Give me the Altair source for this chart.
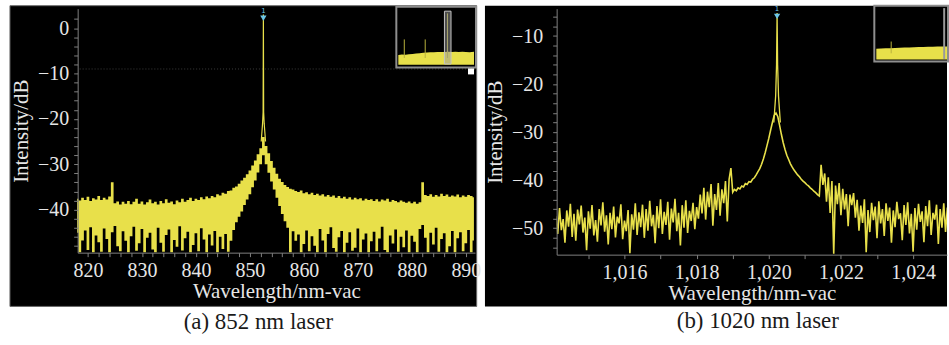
import altair as alt
import pandas as pd

FONT = "Liberation Serif, Times New Roman, Times, DejaVu Serif, serif"
YEL = "#e8e04a"
CYAN = "#6cc6e8"
TXT = "#e6e6e6"
AXC = "#808080"

# ---------------- panel (a): 852 nm laser ----------------
wl_a = [round(818.0 + 0.5 * i, 1) for i in range(148)]
upper_a = [
    -37.6, -38.0, -37.4, -37.9, -37.2, -38.1, -37.5, -37.8, -37.0, -37.9,
    -37.4, -37.8, -37.1, -34.0, -38.6, -38.2, -38.9, -38.3, -38.7, -38.1,
    -38.8, -38.3, -37.6, -38.7, -38.2, -38.9, -38.4, -37.8, -38.6, -38.3,
    -38.9, -38.1, -38.6, -37.7, -38.5, -38.2, -38.8, -38.0, -38.4, -37.6,
    -38.3, -37.9, -37.4, -38.1, -37.6, -37.9, -37.3, -37.7, -37.1, -37.5,
    -37.0, -37.3, -36.6, -36.9, -36.3, -36.5, -35.9, -35.8, -35.2, -34.9,
    -34.3, -33.6, -33.0, -32.2, -31.4, -30.3, -29.2, -27.8, -26.5, -24.0,
    -26.0, -27.6, -29.3, -30.8, -32.1, -33.2, -33.9, -34.6, -35.0, -35.4,
    -35.6, -35.9, -36.1, -35.8, -36.4, -36.2, -36.6, -36.3, -36.8, -36.5,
    -36.9, -36.6, -37.1, -36.8, -37.2, -36.9, -37.4, -37.0, -37.5, -37.2,
    -37.6, -37.3, -37.8, -37.4, -37.7, -37.5, -38.0, -37.6, -37.9, -37.7,
    -38.1, -37.7, -38.2, -37.8, -38.0, -37.6, -38.3, -37.9, -38.1, -38.4,
    -38.0, -38.3, -38.5, -38.2, -38.6, -38.3, -38.7, -38.4, -34.0, -36.8,
    -37.0, -36.6, -37.2, -36.8, -37.1, -36.5, -37.0, -36.7, -37.2, -36.9,
    -37.1, -36.7, -37.3, -36.9, -37.2, -36.8, -37.0, -37.3,
]
lower_a = [
    -45.1, -49.4, -46.8, -44.6, -48.9, -43.9, -49.4, -45.7, -47.2, -49.3,
    -44.2, -46.5, -49.4, -45.0, -43.6, -48.1, -49.2, -44.8, -46.9, -49.4,
    -45.9, -43.8, -49.1, -47.4, -44.3, -49.4, -46.2, -45.1, -48.8, -49.4,
    -44.0, -47.3, -49.3, -45.6, -44.4, -49.4, -46.7, -48.2, -43.7, -49.0,
    -46.3, -44.9, -49.4, -47.8, -45.2, -49.2, -44.1, -46.6, -49.4, -45.5,
    -47.9, -44.7, -49.4, -46.0, -48.7, -45.4, -49.3, -46.9, -44.5, -42.8,
    -41.6, -40.4, -39.0, -37.8, -36.6, -35.1, -33.6, -31.8, -30.0, -28.0,
    -30.0, -31.9, -33.8, -35.6, -37.4, -39.2, -41.0, -42.6, -44.0, -49.4,
    -44.8, -46.9, -45.5, -49.4, -47.6, -44.6, -49.2, -45.9, -48.0, -49.4,
    -44.3, -46.8, -49.4, -45.4, -43.9, -48.5, -49.3, -46.1, -44.7, -49.4,
    -47.3, -45.0, -49.1, -48.4, -44.2, -49.4, -46.6, -45.3, -49.4, -47.0,
    -44.9, -49.2, -46.4, -43.8, -48.9, -49.4, -45.7, -47.5, -44.4, -49.3,
    -46.0, -48.3, -44.6, -49.4, -45.8, -47.1, -49.4, -44.3, -43.4, -46.2,
    -49.4, -45.1, -47.7, -44.0, -49.3, -46.5, -45.2, -49.4, -48.1, -44.7,
    -49.4, -46.3, -45.0, -49.2, -47.4, -44.5, -49.4, -46.8,
]
peak_a_wl = [852.1, 852.35, 852.45, 852.5, 852.55, 852.65, 852.9]
peak_a_db = [-25.0, -21.0, -18.5, 3.0, -18.5, -21.0, -25.0]
marker_a = [{"wl": 852.5, "db": 2.2}]
threshold_a = [{"db": -9.0}]
x_ticks_a = list(range(820, 892, 2))
y_ticks_a = list(range(-48, 3, 2))

# overview inset (a)
ova_x = [300, 340, 380, 420, 460, 500, 540, 580, 620, 660, 700, 740, 780, 820, 860, 900, 940, 980, 1020, 1060, 1100, 1150]
ova_y = [-56.0, -55.4, -55.6, -54.9, -54.6, -54.0, -53.6, -53.1, -52.7, -52.4, -52.1, -51.9, -51.8, -51.9, -51.6, -51.9, -51.7, -52.0, -51.6, -51.9, -52.1, -51.7]
ova_spike_x = [367, 602, 852]
ova_spike_y = [-35.0, -35.0, 0.0]
ova_sel = [{"ow": 818, "ow2": 892, "od": -68, "od2": 3}]

# ---------------- panel (b): 1020 nm laser ----------------
wl_b = [round(1014.10 + 0.05 * i, 2) for i in range(218)]
trace_b = [
    -47.5, -51.2, -45.8, -50.4, -48.1, -53.0, -46.3, -49.7, -44.9, -51.8,
    -47.0, -52.6, -46.1, -49.2, -45.3, -50.9, -47.8, -54.6, -46.5, -50.1,
    -45.2, -51.5, -48.3, -52.8, -46.0, -49.4, -44.6, -50.7, -47.3, -53.4,
    -46.8, -50.2, -45.5, -51.9, -47.6, -49.0, -45.0, -52.3, -48.4, -50.6,
    -46.2, -55.2, -47.1, -50.3, -44.8, -51.4, -46.7, -49.8, -45.1, -52.0,
    -46.0, -50.5, -44.3, -49.6, -47.2, -53.1, -45.4, -50.0, -44.0, -51.2,
    -46.6, -49.3, -44.5, -52.4, -45.9, -48.8, -43.9, -50.6, -46.8, -53.6,
    -45.2, -49.9, -44.2, -51.0, -46.4, -48.5, -44.7, -50.2, -45.6, -48.0,
    -43.0, -46.9, -41.6, -48.2, -42.4, -45.6, -40.8, -49.5, -42.9, -46.2,
    -40.6, -47.4, -41.9, -44.8, -40.2, -48.6, -39.8, -37.5, -42.5, -41.9,
    -42.2, -41.6, -41.8, -41.2, -41.4, -40.7, -40.9, -40.3, -40.4, -39.8,
    -39.5, -38.9, -38.2, -37.6, -36.7, -35.6, -34.3, -32.8, -31.3, -29.6,
    -28.0, -26.5, -26.0, -26.8, -28.6, -30.5, -32.2, -33.6, -34.8, -35.7,
    -36.6, -37.3, -37.9, -38.4, -38.9, -39.3, -39.8, -40.2, -40.5, -40.9,
    -41.2, -41.6, -41.9, -42.3, -42.6, -43.0, -43.3, -36.8, -41.0, -38.6,
    -44.5, -39.4, -46.8, -40.2, -55.3, -41.1, -45.0, -40.6, -47.3, -41.8,
    -46.1, -42.9, -49.6, -43.0, -45.2, -42.7, -47.8, -44.1, -50.5, -45.3,
    -48.9, -44.0, -55.0, -46.2, -50.8, -44.7, -48.3, -45.5, -52.1, -44.4,
    -49.0, -46.0, -51.6, -44.8, -48.5, -45.7, -53.0, -46.3, -49.8, -44.5,
    -48.1, -46.9, -52.5, -45.2, -49.3, -44.6, -51.1, -47.0, -54.9, -45.8,
    -50.3, -44.9, -48.7, -46.5, -52.9, -45.4, -49.6, -44.2, -51.4, -46.8,
    -48.2, -45.1, -53.3, -46.0, -49.9, -44.8, -50.8, -45.7,
]
peak_b_wl = [1020.14, 1020.19, 1020.215, 1020.23, 1020.245, 1020.27, 1020.32]
peak_b_db = [-28.0, -22.5, -16.0, -5.2, -16.0, -22.5, -28.0]
marker_b = [{"wl": 1020.23, "db": -5.9}]
x_ticks_b = list(range(1015, 1025))
y_ticks_b = list(range(-54, -5, 2))

# overview inset (b)
ovb_x = [300, 350, 400, 450, 500, 550, 600, 650, 700, 750, 800, 850, 900, 950, 1000, 1050]
ovb_y = [-53.5, -53.2, -53.0, -52.8, -52.5, -52.3, -52.0, -51.8, -51.6, -51.3, -51.1, -50.9, -50.8, -50.6, -50.7, -50.5]
ovb_spike_x = [458]
ovb_spike_y = [-43.6]
ovb_sel_x = [1020]

captions = ["(a) 852 nm laser", "(b) 1020 nm laser"]
one = alt.Data(values=[{}])


def x_axis(values, every, fmt):
    return alt.Axis(values=values, format=fmt,
                    labelExpr=f"datum.value % {every} === 0 ? datum.label : ''",
                    title="Wavelength/nm-vac", labelFlush=False, labelOverlap=False,
                    tickSize=4, labelPadding=4, titlePadding=0, zindex=2)


def y_axis(values, pad, tpad):
    return alt.Axis(values=values, format="d",
                    labelExpr="datum.value % 10 === 0 ? datum.label : ''",
                    title="Intensity/dB", labelFlush=False, labelOverlap=False,
                    tickSize=4, labelPadding=pad, titlePadding=tpad, zindex=2)


# ---------- panel A ----------
xA = alt.X("wl:Q", scale=alt.Scale(domain=[818.1, 891.7], nice=False, zero=False),
           axis=x_axis(x_ticks_a, 10, "d"))
yA = alt.Y("db:Q", scale=alt.Scale(domain=[-49.5, 4.3], nice=False, zero=False),
           axis=y_axis(y_ticks_a, 5, 6))
yA_low = alt.Y("lower:Q", scale=alt.Scale(domain=[-49.5, 4.3], nice=False, zero=False),
               axis=y_axis(y_ticks_a, 5, 6))

bgA = alt.Chart(one).mark_rect(fill="black", stroke="#6a6a6a", strokeWidth=1).encode(
    x=alt.value(-68), x2=alt.value(400.7), y=alt.value(-3), y2=alt.value(299))
thrA = alt.Chart(alt.Data(values=threshold_a)).mark_rule(
    color="#3c3c3c", strokeDash=[1, 2], strokeWidth=1).encode(y=yA)
areaA = alt.Chart(pd.DataFrame({"wl": wl_a, "lower": lower_a, "upper": upper_a})).mark_area(
    color=YEL, opacity=1, interpolate="step").encode(x=xA, y=yA_low, y2="upper:Q")
peakA = alt.Chart(pd.DataFrame({"wl": peak_a_wl, "db": peak_a_db})).mark_line(
    color=YEL, strokeWidth=1.2).encode(x=xA, y=yA)
mkA = alt.Chart(alt.Data(values=marker_a)).mark_point(
    shape="triangle-down", filled=True, color=CYAN, size=40, opacity=1).encode(x=xA, y=yA)
lbA = alt.Chart(alt.Data(values=marker_a)).mark_text(
    text="1", fontSize=7, color=CYAN, dy=-7, font="DejaVu Sans").encode(x=xA, y=yA)
mainA = alt.layer(bgA, thrA, areaA, peakA, mkA, lbA)

ixA = alt.X("ow:Q", scale=alt.Scale(domain=[300, 1150], range=[322, 398], nice=False, zero=False), axis=None)
iyA = alt.Y("od:Q", scale=alt.Scale(domain=[-70, 5], range=[57, 1], nice=False, zero=False), axis=None)
boxA = alt.Chart(one).mark_rect(fill="black", stroke="#8e8e8e", strokeWidth=2).encode(
    x=alt.value(320), x2=alt.value(400), y=alt.value(-2), y2=alt.value(59))
ovA = alt.Chart(pd.DataFrame({"ow": ova_x, "od": ova_y})).mark_area(color=YEL).encode(
    x=ixA, y=iyA, y2=alt.datum(-69))
spA = alt.Chart(pd.DataFrame({"ow": ova_spike_x, "od": ova_spike_y})).mark_rule(
    color="#b8b13c", strokeWidth=1).encode(x=ixA, y=iyA, y2=alt.datum(-60))
selA = alt.Chart(alt.Data(values=ova_sel)).mark_rect(
    fill="#9a9a9a", fillOpacity=0.5, stroke="#c4c4c4", strokeWidth=1).encode(
    x=ixA, x2="ow2:Q", y=iyA, y2="od2:Q")
sqA = alt.Chart(one).mark_rect(fill="white").encode(
    x=alt.value(392), x2=alt.value(398), y=alt.value(60), y2=alt.value(66))
insetA = alt.layer(boxA, ovA, spA, selA, sqA)

panelA = alt.layer(mainA, insetA).resolve_scale(x="independent", y="independent").properties(
    width=399, height=245,
    title=alt.TitleParams(captions[0], orient="bottom", anchor="middle", frame="group",
                          offset=4, dx=-18, font=FONT, fontSize=23, fontWeight="normal",
                          color="#1a1a1a"))

# ---------- panel B ----------
xB = alt.X("wl:Q", scale=alt.Scale(domain=[1014.12, 1024.94], nice=False, zero=False),
           axis=x_axis(x_ticks_b, 2, ",d"))
yB = alt.Y("db:Q", scale=alt.Scale(domain=[-55.5, -4.3], nice=False, zero=False),
           axis=y_axis(y_ticks_b, 10, 6))

bgB = alt.Chart(one).mark_rect(fill="black").encode(
    x=alt.value(-72), x2=alt.value(392), y=alt.value(-3), y2=alt.value(299))
trB = alt.Chart(pd.DataFrame({"wl": wl_b, "db": trace_b})).mark_line(
    color=YEL, strokeWidth=1.6, clip=True).encode(x=xB, y=yB)
peakB = alt.Chart(pd.DataFrame({"wl": peak_b_wl, "db": peak_b_db})).mark_line(
    color=YEL, strokeWidth=1.3).encode(x=xB, y=yB)
mkB = alt.Chart(alt.Data(values=marker_b)).mark_point(
    shape="triangle-down", filled=True, color=CYAN, size=40, opacity=1).encode(x=xB, y=yB)
lbB = alt.Chart(alt.Data(values=marker_b)).mark_text(
    text="1", fontSize=7, color=CYAN, dy=-7, font="DejaVu Sans").encode(x=xB, y=yB)
mainB = alt.layer(bgB, trB, peakB, mkB, lbB)

ixB = alt.X("ow:Q", scale=alt.Scale(domain=[300, 1050], range=[321, 392], nice=False, zero=False), axis=None)
iyB = alt.Y("od:Q", scale=alt.Scale(domain=[-70, 5], range=[52, -2], nice=False, zero=False), axis=None)
boxB = alt.Chart(one).mark_rect(fill="black", stroke="#8e8e8e", strokeWidth=2).encode(
    x=alt.value(319), x2=alt.value(393), y=alt.value(-3), y2=alt.value(53))
ovB = alt.Chart(pd.DataFrame({"ow": ovb_x, "od": ovb_y})).mark_area(color=YEL).encode(
    x=ixB, y=iyB, y2=alt.datum(-68.6))
spB = alt.Chart(pd.DataFrame({"ow": ovb_spike_x, "od": ovb_spike_y})).mark_rule(
    color="#b8b13c", strokeWidth=1).encode(x=ixB, y=iyB, y2=alt.datum(-60))
selB = alt.Chart(pd.DataFrame({"ow": ovb_sel_x})).mark_rule(
    color="#9a9a9a", strokeWidth=2).encode(x=ixB, y=alt.datum(-68), y2=alt.datum(3))
insetB = alt.layer(boxB, ovB, spB, selB)

panelB = alt.layer(mainB, insetB).resolve_scale(x="independent", y="independent").properties(
    width=392, height=247,
    title=alt.TitleParams(captions[1], orient="bottom", anchor="middle", frame="group",
                          offset=4, dx=6, font=FONT, fontSize=23, fontWeight="normal",
                          color="#1a1a1a"))

chart = alt.hconcat(panelA, panelB, spacing=3).configure(
    padding={"left": 9, "top": 4, "right": 0, "bottom": 5}, background="white"
).configure_view(strokeWidth=0).configure_axis(
    grid=False, labelFont=FONT, labelFontSize=20, labelColor=TXT,
    titleFont=FONT, titleFontSize=21, titleFontWeight="normal", titleColor=TXT,
    domainColor=AXC, tickColor=AXC)

chart.save("out.html", embed_options={"renderer": "svg", "actions": False})
